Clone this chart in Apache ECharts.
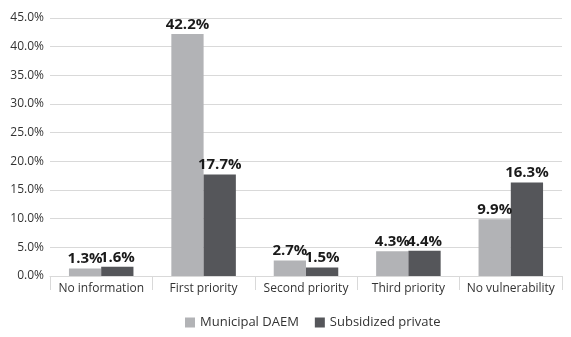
<!DOCTYPE html>
<html>
<head>
<meta charset="utf-8">
<script src="https://cdn.jsdelivr.net/npm/echarts@6/dist/echarts.min.js"></script>
<style>
  html, body { margin: 0; padding: 0; background: #fff; }
  #chart { width: 571px; height: 337px; }
</style>
</head>
<body>
<div id="chart"></div>
<script>
const categories = ['No information', 'First priority', 'Second priority', 'Third priority', 'No vulnerability'];
const municipalDaem = [1.3, 42.2, 2.7, 4.3, 9.9];
const subsidizedPrivate = [1.6, 17.7, 1.5, 4.4, 16.3];

const font = '"Open Sans", "Noto Sans", sans-serif';
const labelStyle = {
  show: true,
  position: 'top',
  distance: 2,
  formatter: (p) => p.value.toFixed(1) + '%',
  color: '#1a1a1a',
  fontWeight: 'bold',
  fontSize: 15,
  fontFamily: font,
};

const chart = echarts.init(document.getElementById('chart'));
chart.setOption({
  animation: false,
  grid: { left: 50, right: 9, top: 18, bottom: 61 },
  legend: {
    bottom: 3,
    left: 180,
    itemWidth: 10,
    itemHeight: 10,
    itemGap: 16,
    icon: 'rect',
    textStyle: { color: '#333', fontSize: 13, fontFamily: font },
    data: ['Municipal DAEM', 'Subsidized private'],
  },
  xAxis: {
    type: 'category',
    data: categories,
    axisLine: { lineStyle: { color: '#d9d9d9' } },
    axisTick: { show: true, length: 14, lineStyle: { color: '#d9d9d9' } },
    axisLabel: { interval: 0, color: '#333', fontSize: 12, fontFamily: font, margin: 7 },
  },
  yAxis: {
    type: 'value',
    min: 0,
    max: 45,
    interval: 5,
    axisLine: { show: false },
    axisTick: { show: false },
    axisLabel: { color: '#333', fontSize: 12, fontFamily: font, formatter: (v) => v.toFixed(1) + '%', margin: 6 },
    splitLine: { lineStyle: { color: '#d9d9d9' } },
  },
  series: [
    {
      name: 'Municipal DAEM',
      type: 'bar',
      data: municipalDaem,
      barGap: '0%',
      barCategoryGap: '37%',
      itemStyle: { color: '#b2b3b6' },
      label: labelStyle,
    },
    {
      name: 'Subsidized private',
      type: 'bar',
      data: subsidizedPrivate,
      itemStyle: { color: '#55565a' },
      label: labelStyle,
    },
  ],
});
</script>
</body>
</html>
